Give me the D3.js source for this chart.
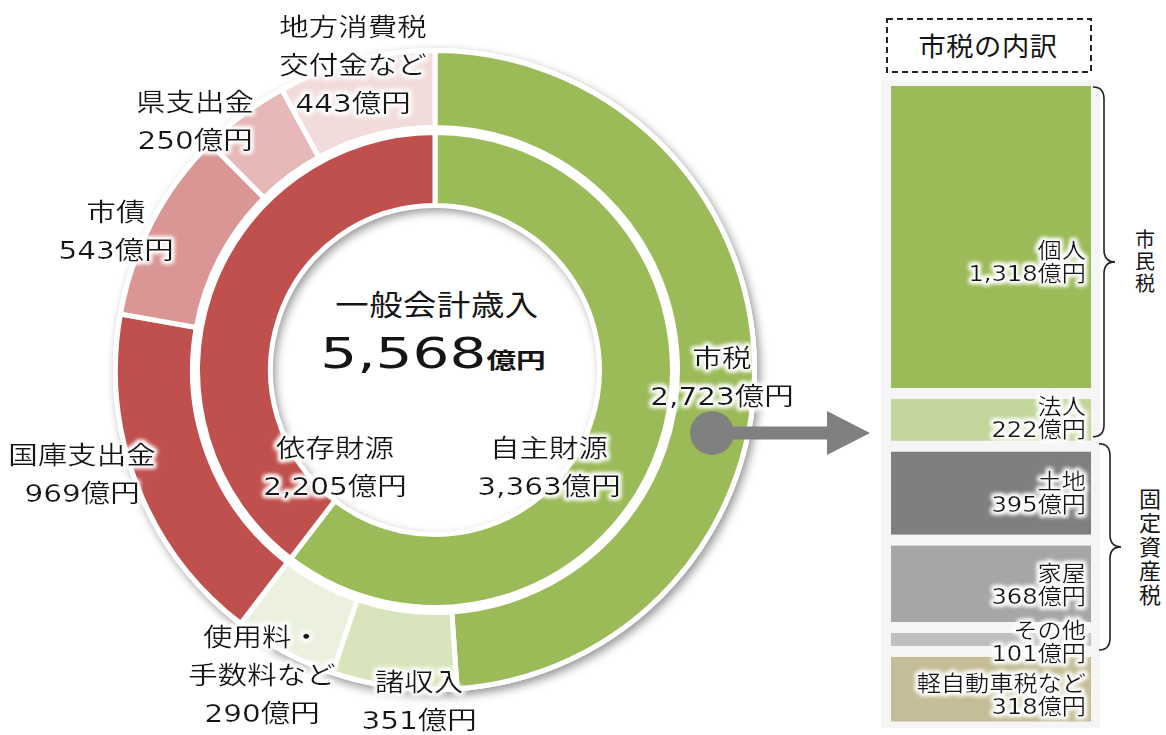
<!DOCTYPE html>
<html lang="ja">
<head>
<meta charset="utf-8">
<script src="https://cdn.jsdelivr.net/npm/d3@7"></script>
<style>
  body { margin: 0; background: #fff; }
  svg { display: block; }
  text { font-family: "DejaVu Sans", "Noto Sans CJK JP", sans-serif; fill: #151515; }
</style>
</head>
<body>
<div id="chart"></div>
<script>
// 一般会計歳入（億円）
const innerNames = ["自主財源", "依存財源"];
const innerValues = [3363, 2205];
const outerNames = ["市税", "諸収入", "使用料・\n手数料など", "国庫支出金", "市債", "県支出金", "地方消費税\n交付金など"];
const outerValues = [2723, 351, 290, 969, 543, 250, 443];
const totalTitle = "一般会計歳入";
const totalValue = 5568;

// 市税の内訳（億円）
const taxNames = ["個人", "法人", "土地", "家屋", "その他", "軽自動車税など"];
const taxValues = [1318, 222, 395, 368, 101, 318];
const taxGroups = ["市民税", "固定資産税"];
const taxGroupSpans = [[0, 1], [2, 4]];   // first and last index in taxNames

const width = 1166, height = 735;
const cx = 435, cy = 370;

const fmt = d3.format(",");
const oku = v => fmt(v) + "億円";

const innerColor = d3.scaleOrdinal().domain(innerNames).range(["#9BBB59", "#C0504D"]);
const outerColor = d3.scaleOrdinal().domain(outerNames)
  .range(["#9BBB59", "#D8E4BC", "#EBF1DE", "#C0504D", "#DA9694", "#E6B8B7", "#F2DCDB"]);
const taxColor = d3.scaleOrdinal().domain(taxNames)
  .range(["#9BBB59", "#C3D69B", "#7F7F7F", "#A6A6A6", "#BFBFBF", "#C4BD97"]);

// where the ring labels sit (centre x, baseline of first line)
const outerLabelPos = [[722, 367], [419, 691], [262, 646], [82, 464], [116, 221], [195, 111], [353, 36]];
const innerLabelPos = [[549, 457], [335, 457]];
const taxLabelNudge = [22, -4, -3, -1, 0, 3];

const svg = d3.select("#chart").append("svg")
  .attr("width", width)
  .attr("height", height);

const defs = svg.append("defs");

const shadow = defs.append("filter").attr("id", "ringShadow")
  .attr("x", "-10%").attr("y", "-10%").attr("width", "120%").attr("height", "120%");
shadow.append("feDropShadow")
  .attr("dx", 3).attr("dy", 4).attr("stdDeviation", 5)
  .attr("flood-color", "#000").attr("flood-opacity", 0.42);

const glow = defs.append("filter").attr("id", "glow")
  .attr("x", "-20%").attr("y", "-40%").attr("width", "140%").attr("height", "180%");
glow.append("feMorphology").attr("in", "SourceAlpha").attr("operator", "dilate").attr("radius", 2).attr("result", "d");
glow.append("feGaussianBlur").attr("in", "d").attr("stdDeviation", 2).attr("result", "b");
glow.append("feFlood").attr("flood-color", "#fff");
glow.append("feComposite").attr("in2", "b").attr("operator", "in").attr("result", "g");
const gm = glow.append("feMerge");
gm.append("feMergeNode").attr("in", "g");
gm.append("feMergeNode").attr("in", "g");
gm.append("feMergeNode").attr("in", "SourceGraphic");

// multi-line text block, slightly widened like the original typeface
function addLabel(parent, x, y, lines, o) {
  const g = parent.append("g")
    .attr("transform", `translate(${x},${y}) scale(${o.sx},1)`)
    .attr("filter", o.glow ? "url(#glow)" : null);
  const t = g.append("text")
    .attr("text-anchor", o.anchor || "middle")
    .style("font-size", o.size + "px")
    .style("letter-spacing", (o.ls || 0) + "px");
  lines.forEach((s, i) => {
    t.append("tspan").attr("x", 0).attr("y", i * o.step).text(s);
  });
  return g;
}

// ---- donut ----
const ring = svg.append("g").attr("transform", `translate(${cx},${cy})`);

ring.append("path")
  .attr("d", d3.arc().innerRadius(163).outerRadius(322).startAngle(0).endAngle(2 * Math.PI)())
  .attr("fill", "#fff")
  .attr("filter", "url(#ringShadow)");

const pie = d3.pie().sort(null);
const outerArc = d3.arc().innerRadius(242.5).outerRadius(319.5);
const innerArc = d3.arc().innerRadius(164.5).outerRadius(237.5);

ring.selectAll("path.outer")
  .data(pie(outerValues))
  .enter()
  .append("path")
    .attr("class", "outer")
    .attr("d", outerArc)
    .attr("fill", (d, i) => outerColor(outerNames[i]))
    .attr("stroke", "#fff")
    .attr("stroke-width", 5);

ring.selectAll("path.inner")
  .data(pie(innerValues))
  .enter()
  .append("path")
    .attr("class", "inner")
    .attr("d", innerArc)
    .attr("fill", (d, i) => innerColor(innerNames[i]))
    .attr("stroke", "#fff")
    .attr("stroke-width", 5);

// arrow from 市税 to the breakdown
const arrowY = 433;
svg.append("line")
  .attr("x1", 712).attr("y1", arrowY).attr("x2", 830).attr("y2", arrowY)
  .attr("stroke", "#808080").attr("stroke-width", 13);
svg.append("circle")
  .attr("cx", 712).attr("cy", arrowY).attr("r", 22)
  .attr("fill", "#808080");
svg.append("path")
  .attr("d", `M827,${arrowY - 22}L870,${arrowY}L827,${arrowY + 22}Z`)
  .attr("fill", "#808080");

// labels
const labels = svg.append("g");
const ringLabel = { size: 25, ls: 0, sx: 1.18, step: 38, glow: true };

outerNames.forEach((name, i) => {
  const lines = name.split("\n").concat([oku(outerValues[i])]);
  addLabel(labels, outerLabelPos[i][0], outerLabelPos[i][1], lines, ringLabel);
});
innerNames.forEach((name, i) => {
  addLabel(labels, innerLabelPos[i][0], innerLabelPos[i][1], [name, oku(innerValues[i])], ringLabel);
});

addLabel(labels, 437, 316, [totalTitle], { size: 29, ls: 0.5, sx: 1.15, step: 0 });

const big = svg.append("g").attr("transform", `translate(433,368) scale(1.35,1)`)
  .append("text")
    .attr("text-anchor", "middle");
big.append("tspan")
  .style("font-size", "43px")
  .text(fmt(totalValue));
big.append("tspan")
  .style("font-size", "22px")
  .style("font-weight", "bold")
  .text("億円");

// ---- 市税の内訳 ----
svg.append("rect")
  .attr("x", 887).attr("y", 19).attr("width", 204).attr("height", 53)
  .attr("fill", "none")
  .attr("stroke", "#222")
  .attr("stroke-width", 2)
  .attr("stroke-dasharray", "6,4");
addLabel(svg, 988, 56, ["市税の内訳"], { size: 26, ls: 0.5, sx: 1.05, step: 0 });

svg.append("rect")
  .attr("x", 881).attr("y", 80).attr("width", 219).attr("height", 648)
  .attr("fill", "#F5F5F5");

const taxTotal = d3.sum(taxValues);
const gap = 11;
const y = d3.scaleLinear().domain([0, taxTotal]).range([86, 732.5]);
const cum = [];
taxValues.reduce((acc, v) => { cum.push(acc); return acc + v; }, 0);

svg.selectAll("rect.tax")
  .data(taxValues)
  .enter()
  .append("rect")
    .attr("class", "tax")
    .attr("x", 891)
    .attr("width", 200)
    .attr("y", (d, i) => y(cum[i]))
    .attr("height", (d, i) => y(cum[i] + d) - y(cum[i]) - gap)
    .attr("fill", (d, i) => taxColor(taxNames[i]));

taxValues.forEach((v, i) => {
  const mid = (y(cum[i]) + y(cum[i] + v) - gap) / 2 + taxLabelNudge[i];
  addLabel(svg, 1086, mid - 1.5, [taxNames[i], oku(v)],
    { size: 22, ls: 0, sx: 1.1, step: 23, anchor: "end", glow: true });
});

// curly brackets for 市民税 / 固定資産税
const bracketX = [1104, 1110];
const bracketTextX = [1145, 1150];
const bracketFont = [20, 22];
taxGroups.forEach((name, k) => {
  const [a, b] = taxGroupSpans[k];
  const top = y(cum[a]) + (k === 0 ? 1 : -8);
  const bottom = y(cum[b] + taxValues[b]) - gap + (k === 0 ? -4 : 4);
  const mid = (top + bottom) / 2;
  const x = bracketX[k];
  const p = d3.path();
  p.moveTo(x - 11, top);
  p.quadraticCurveTo(x, top, x, top + 12);
  p.lineTo(x, mid - 12);
  p.quadraticCurveTo(x, mid, x + 11, mid);
  p.quadraticCurveTo(x, mid, x, mid + 12);
  p.lineTo(x, bottom - 12);
  p.quadraticCurveTo(x, bottom, x - 11, bottom);
  svg.append("path")
    .attr("d", p.toString())
    .attr("fill", "none")
    .attr("stroke", "#222")
    .attr("stroke-width", 1.6);

  const chars = Array.from(name);
  const step = bracketFont[k] + 2;
  const first = mid - (chars.length - 1) * step / 2 + bracketFont[k] * 0.38;
  const t = svg.append("text")
    .attr("text-anchor", "middle")
    .style("font-size", bracketFont[k] + "px");
  chars.forEach((c, j) => {
    t.append("tspan").attr("x", bracketTextX[k]).attr("y", first + j * step).text(c);
  });
});
</script>
</body>
</html>
